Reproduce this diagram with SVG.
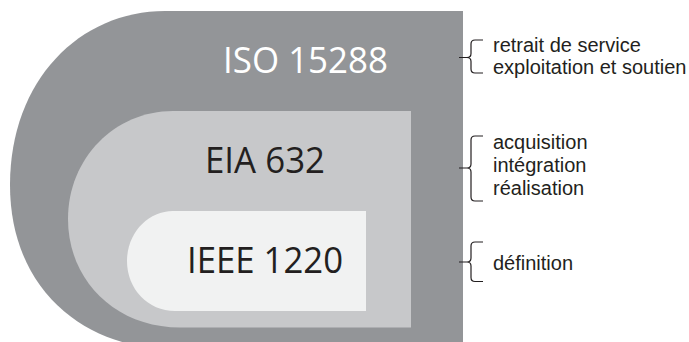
<svg xmlns="http://www.w3.org/2000/svg" width="689" height="342" viewBox="0 0 689 342">
<style>
.big{font-family:"Open Sans","DejaVu Sans",sans-serif;font-size:36px}
.lab{font-family:"Liberation Sans",Arial,sans-serif;font-size:20px;fill:#231f20}
.br{fill:none;stroke:#231f20;stroke-width:1.2}
</style>
<rect width="689" height="342" fill="#ffffff"/>
<g id="iso15288">
<path d="M165,11 H463 V348 H160 C85,345 10,290 10,185 C10,80 80,11 165,11 Z" fill="#939598"/>
<text class="big" x="223" y="72.5" fill="#ffffff" textLength="165" lengthAdjust="spacingAndGlyphs">ISO 15288</text>
</g>
<g id="eia632">
<path d="M173,111 H411 V327.5 H180 C115,327.5 68,280 68,219 C68,158 115,111 173,111 Z" fill="#c7c8ca"/>
<text class="big" x="205" y="173" fill="#231f20" textLength="120" lengthAdjust="spacingAndGlyphs">EIA 632</text>
</g>
<g id="ieee1220">
<path d="M173,211 H366 V311 H175 C148,311 127,289 127,261 C127,233 148,211 173,211 Z" fill="#f1f2f2"/>
<text class="big" x="187" y="273" fill="#231f20" textLength="156" lengthAdjust="spacingAndGlyphs">IEEE 1220</text>
</g>
<g id="connectors">
<path class="br" d="M483,40 H475 Q471,40 471,44 V53.5 Q471,57.5 467,57.5 H459 M467,57.5 Q471,57.5 471,61.5 V69 Q471,73 475,73 H483"/>
<path class="br" d="M483,136 H475 Q471,136 471,140 V164 Q471,168 467,168 H459 M467,168 Q471,168 471,172 V197 Q471,201 475,201 H483"/>
<path class="br" d="M483,242 H475 Q471,242 471,246 V258 Q471,262 467,262 H459 M467,262 Q471,262 471,266 V277.5 Q471,281.5 475,281.5 H483"/>
</g>
<g id="labels">
<text class="lab" x="493" y="52">retrait de service</text>
<text class="lab" x="493" y="74">exploitation et soutien</text>
<text class="lab" x="493" y="149">acquisition</text>
<text class="lab" x="493" y="172">intégration</text>
<text class="lab" x="493" y="195">réalisation</text>
<text class="lab" x="493" y="270">définition</text>
</g>
</svg>
